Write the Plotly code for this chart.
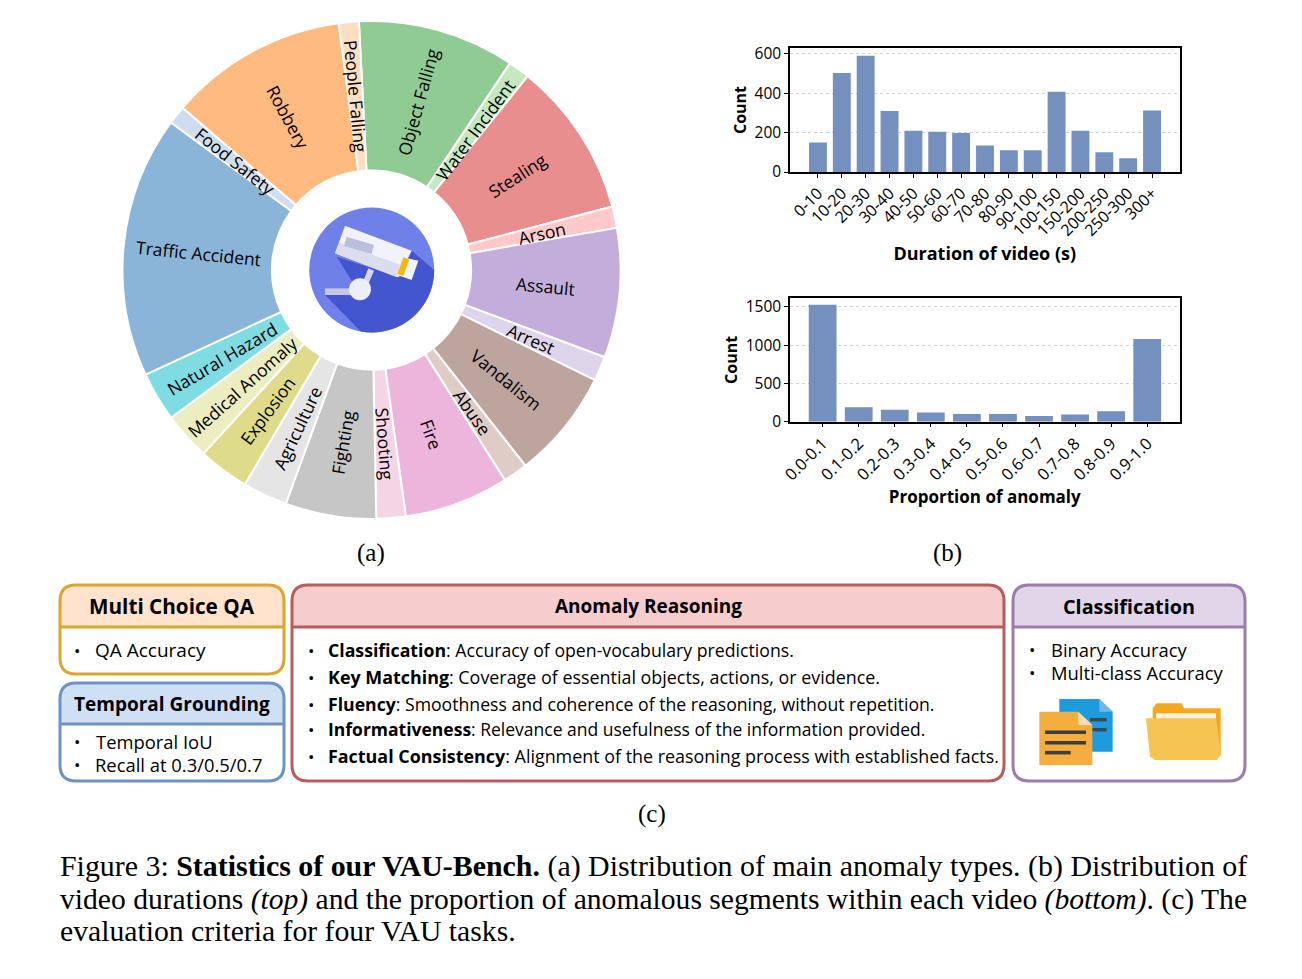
import math
import plotly.graph_objects as go

W, H = 1302, 979
FONT = "Open Sans"
SERIF = "Liberation Serif"

anomaly_types = ["Object Falling", "Water Incident", "Stealing", "Arson", "Assault", "Arrest", "Vandalism",
                 "Abuse", "Fire", "Shooting", "Fighting", "Agriculture", "Explosion", "Medical Anomaly",
                 "Natural Hazard", "Traffic Accident", "Food Safety", "Robbery", "People Falling"]
anomaly_shares = [10.2, 1.4, 10.1, 1.4, 8.4, 1.6, 7.1, 1.6, 6.8, 1.9, 5.9, 2.9, 3.3, 3.1, 3.2, 17.0, 1.2, 11.6, 1.3]
anomaly_colors = ["#90CB94", "#C5E8BF", "#E98E8E", "#FFC9C9", "#C3AEDB", "#DFD5EA", "#BDA49C", "#E0CCC6",
                  "#EDB4DC", "#F5D4E6", "#C6C6C6", "#E5E5E5", "#DEDC8A", "#EDEDC2", "#80DCE3", "#8AB5D8",
                  "#CFDDEF", "#FFBA7F", "#FFDDBF"]

duration_bins = ["0-10", "10-20", "20-30", "30-40", "40-50", "50-60", "60-70", "70-80", "80-90", "90-100",
                 "100-150", "150-200", "200-250", "250-300", "300+"]
duration_counts = [150, 503, 590, 310, 210, 205, 198, 135, 110, 110, 408, 210, 100, 70, 312]

proportion_bins = ["0.0-0.1", "0.1-0.2", "0.2-0.3", "0.3-0.4", "0.4-0.5", "0.5-0.6", "0.6-0.7", "0.7-0.8",
                   "0.8-0.9", "0.9-1.0"]
proportion_counts = [1530, 190, 155, 120, 100, 100, 75, 95, 135, 1080]

BAR = "#7390BE"
ROTATION = -2.9
PIE_X, PIE_Y, PIE_R, PIE_HOLE = 371.5, 270, 249, 0.4


def px(x):
    return x / W


def py(y):
    return 1 - y / H


def P(x, y):
    return f"{px(x):.5f},{py(y):.5f}"


shapes = []
annotations = []


def poly(points, fill):
    d = "M" + " L".join(P(x, y) for x, y in points) + " Z"
    shapes.append(dict(type="path", xref="paper", yref="paper", path=d, fillcolor=fill,
                       line=dict(width=0), layer="above"))


def line(x0, y0, x1, y1, color, width):
    shapes.append(dict(type="line", xref="paper", yref="paper", x0=px(x0), y0=py(y0), x1=px(x1), y1=py(y1),
                       line=dict(color=color, width=width), layer="above"))


def circle(cx, cy, r, fill):
    shapes.append(dict(type="circle", xref="paper", yref="paper", x0=px(cx - r), x1=px(cx + r), y0=py(cy + r),
                       y1=py(cy - r), fillcolor=fill, line=dict(width=0), layer="above"))


def card(x0, y0, x1, y1, div, border, head):
    r = 16
    hd = (f"M{P(x0, div)} L{P(x0, y0 + r)} Q{P(x0, y0)} {P(x0 + r, y0)} L{P(x1 - r, y0)} "
          f"Q{P(x1, y0)} {P(x1, y0 + r)} L{P(x1, div)} Z")
    shapes.append(dict(type="path", xref="paper", yref="paper", path=hd, fillcolor=head, line=dict(width=0),
                       layer="above"))
    out = (f"M{P(x0 + r, y0)} L{P(x1 - r, y0)} Q{P(x1, y0)} {P(x1, y0 + r)} L{P(x1, y1 - r)} "
           f"Q{P(x1, y1)} {P(x1 - r, y1)} L{P(x0 + r, y1)} Q{P(x0, y1)} {P(x0, y1 - r)} L{P(x0, y0 + r)} "
           f"Q{P(x0, y0)} {P(x0 + r, y0)} Z")
    shapes.append(dict(type="path", xref="paper", yref="paper", path=out, line=dict(color=border, width=3),
                       layer="above"))
    line(x0, div, x1, div, border, 3)


def text(x, y, s, size=17, anchor="left", family=FONT, color="black", angle=0):
    annotations.append(dict(xref="paper", yref="paper", x=px(x), y=py(y), text=s, showarrow=False,
                            xanchor=anchor, yanchor="middle", borderpad=0, textangle=angle,
                            font=dict(family=family, size=size, color=color)))


# pie labels follow the slices: radial text at mid-ring
total = sum(anomaly_shares)
acc = 0
ring_mid = PIE_R * (1 + PIE_HOLE) / 2
for name, share in zip(anomaly_types, anomaly_shares):
    mid = ROTATION + (acc + share / 2) / total * 360
    acc += share
    a = math.radians(mid)
    m = mid % 360
    ang = m - 90 if m < 180 else m - 270
    text(PIE_X + ring_mid * math.sin(a), PIE_Y - ring_mid * math.cos(a), name, 17.5, "center", angle=ang)

# cards
card(60, 585, 284, 674, 627, "#D9A62E", "#FFE3CC")
card(60, 683, 284, 781, 724, "#6C93C4", "#CFE0F5")
card(292, 585, 1004, 781, 627, "#B85C5C", "#F7CCCC")
card(1013, 585, 1245, 781, 627, "#9B7CB0", "#E2D5EA")

text(172, 606, "<b>Multi Choice QA</b>", 20.7, "center")
text(172, 704, "<b>Temporal Grounding</b>", 19, "center")
text(648, 606, "<b>Anomaly Reasoning</b>", 19, "center")
text(1129, 606, "<b>Classification</b>", 19.8, "center")


def bullet(xb, xt, y, s, size=18):
    text(xb, y, "•", 17, "center")
    text(xt, y, s, size)


bullet(77, 94, 650, "QA Accuracy", 19)
bullet(77, 95, 741, "Temporal IoU", 18.4)
bullet(77, 94, 764, "Recall at 0.3/0.5/0.7", 18.4)
bullet(311, 327, 650, "<b>Classification</b>: Accuracy of open-vocabulary predictions.", 17.7)
bullet(311, 327, 677, "<b>Key Matching</b>: Coverage of essential objects, actions, or evidence.", 17.9)
bullet(311, 327, 704, "<b>Fluency</b>: Smoothness and coherence of the reasoning, without repetition.", 17.65)
bullet(311, 327, 729, "<b>Informativeness</b>: Relevance and usefulness of the information provided.", 17.5)
bullet(311, 327, 756, "<b>Factual Consistency</b>: Alignment of the reasoning process with established facts.", 17.9)
bullet(1032, 1050, 649, "Binary Accuracy", 18.4)
bullet(1032, 1050, 672, "Multi-class Accuracy", 18.4)

# subfigure labels and caption
text(371, 553, "(a)", 25, "center", SERIF)
text(948, 553, "(b)", 25, "center", SERIF)
text(652, 814, "(c)", 25, "center", SERIF)
text(59, 866, "Figure 3: <b>Statistics of our VAU-Bench.</b> (a) Distribution of main anomaly types. (b) Distribution of",
     29.9, "left", SERIF)
text(59, 899, "video durations <i>(top)</i> and the proportion of anomalous segments within each video <i>(bottom)</i>. (c) The",
     29.6, "left", SERIF)
text(59, 931, "evaluation criteria for four VAU tasks.", 29.7, "left", SERIF)


# camera icon (zoomed coordinates mapped to the page)
def cam(x, y):
    return (300 + x / 3, 200 + y / 3)


CX, CY, CR = 371.7, 270, 62.5
circle(CX, CY, CR, "#6F80E8")
arc = [(CX + CR * math.cos(math.radians(a)), CY + CR * math.sin(math.radians(a))) for a in range(0, 101, 5)]
poly([cam(110, 170), cam(300, 232), cam(335, 152)] + arc + [cam(75, 285), cam(150, 285), cam(160, 250)], "#4355CF")
poly([cam(135, 77), cam(335, 152), cam(295, 232), cam(105, 160)], "#F1F2FA")
poly([cam(118, 128), cam(305, 196), cam(290, 232), cam(105, 160)], "#DADDEE")
poly([cam(140, 110), cam(222, 135), cam(215, 162), cam(132, 138)], "#BABFDB")
poly([cam(308, 172), cam(355, 182), cam(335, 240), cam(290, 224)], "#F4F5FB")
poly([cam(310, 172), cam(328, 178), cam(310, 228), cam(292, 222)], "#F2B90F")
poly([cam(205, 205), cam(222, 212), cam(205, 252), cam(188, 248)], "#D5D8EA")
poly([cam(75, 265), cam(155, 265), cam(155, 285), cam(75, 285)], "#C4C8E0")
circle(*cam(180, 268), 11, "#ECEEF8")


# document and folder icons
def ic(x, y):
    return (1000 + x / 3, 575 + y / 3)


poly([ic(178, 372), ic(298, 372), ic(338, 410), ic(338, 530), ic(178, 530)], "#1E9BDC")
poly([ic(298, 372), ic(338, 410), ic(298, 410)], "#6DB9EC")
line(*ic(270, 434), *ic(320, 434), "#3A4A55", 3.5)
line(*ic(270, 464), *ic(320, 464), "#3A4A55", 3.5)
poly([ic(118, 410), ic(235, 410), ic(277, 450), ic(277, 570), ic(118, 570)], "#F5AE3E")
poly([ic(235, 410), ic(277, 450), ic(235, 450)], "#F6DDB0")
line(*ic(135, 472), *ic(258, 472), "#3D3D3D", 3.5)
line(*ic(135, 503), *ic(258, 503), "#3D3D3D", 3.5)
line(*ic(135, 533), *ic(212, 533), "#3D3D3D", 3.5)
poly([ic(470, 385), ic(545, 385), ic(552, 400), ic(662, 400), ic(662, 540), ic(458, 540), ic(458, 400)], "#F6A81C")
poly([ic(468, 415), ic(648, 415), ic(648, 440), ic(468, 440)], "#FBF2DC")
poly([ic(438, 430), ic(648, 430), ic(663, 540), ic(650, 555), ic(465, 555), ic(450, 545)], "#F6C453")

fig = go.Figure()
fig.add_trace(go.Pie(
    labels=anomaly_types, values=anomaly_shares, sort=False, direction="clockwise", rotation=ROTATION,
    hole=PIE_HOLE, marker=dict(colors=anomaly_colors, line=dict(color="white", width=2)),
    textinfo="none", showlegend=False, automargin=False,
    domain=dict(x=[px(PIE_X - PIE_R), px(PIE_X + PIE_R)], y=[py(PIE_Y + PIE_R), py(PIE_Y - PIE_R)]),
))
fig.add_trace(go.Bar(x=duration_bins, y=duration_counts, marker=dict(color=BAR, line=dict(width=0)), width=0.75,
                     xaxis="x", yaxis="y", showlegend=False))
fig.add_trace(go.Bar(x=proportion_bins, y=proportion_counts, marker=dict(color=BAR, line=dict(width=0)), width=0.77,
                     xaxis="x2", yaxis="y2", showlegend=False))

common_x = dict(type="category", showline=True, linecolor="black", linewidth=1.5, mirror=True, ticks="outside",
                ticklen=4, tickcolor="black", tickangle=-45, showgrid=False, zeroline=False, automargin=False)
common_y = dict(showline=True, linecolor="black", linewidth=1.5, mirror=True, ticks="outside", ticklen=4,
                tickcolor="black", tickfont=dict(family=FONT, size=15.5, color="black"), showgrid=True,
                griddash="dot", gridcolor="#CDD2E0", gridwidth=1, zeroline=False, automargin=False)
fig.update_layout(
    width=W, height=H, margin=dict(l=0, r=0, t=0, b=0), paper_bgcolor="white", plot_bgcolor="white",
    shapes=shapes, annotations=annotations, bargap=0.25,
    xaxis=dict(common_x, domain=[px(790), px(1179.5)], anchor="y", range=[-1.17, 15.15],
               tickfont=dict(family=FONT, size=16, color="black"),
               title=dict(text="<b>Duration of video (s)</b>", font=dict(family=FONT, size=18, color="black"), standoff=2)),
    yaxis=dict(common_y, domain=[py(172), py(48)], anchor="x", range=[0, 630], tickvals=[0, 200, 400, 600],
               title=dict(text="<b>Count</b>", font=dict(family=FONT, size=16, color="black"), standoff=4)),
    xaxis2=dict(common_x, domain=[px(790), px(1179.5)], anchor="y2", range=[-0.905, 9.895],
                tickfont=dict(family=FONT, size=16.5, color="black"),
                title=dict(text="<b>Proportion of anomaly</b>", font=dict(family=FONT, size=17, color="black"), standoff=0)),
    yaxis2=dict(common_y, domain=[py(421.7), py(298)], anchor="x2", range=[0, 1617], tickvals=[0, 500, 1000, 1500],
                title=dict(text="<b>Count</b>", font=dict(family=FONT, size=16, color="black"), standoff=4)),
)
fig.write_html("out.html", post_script="document.body.style.margin='0';", config=dict(displayModeBar=False))
